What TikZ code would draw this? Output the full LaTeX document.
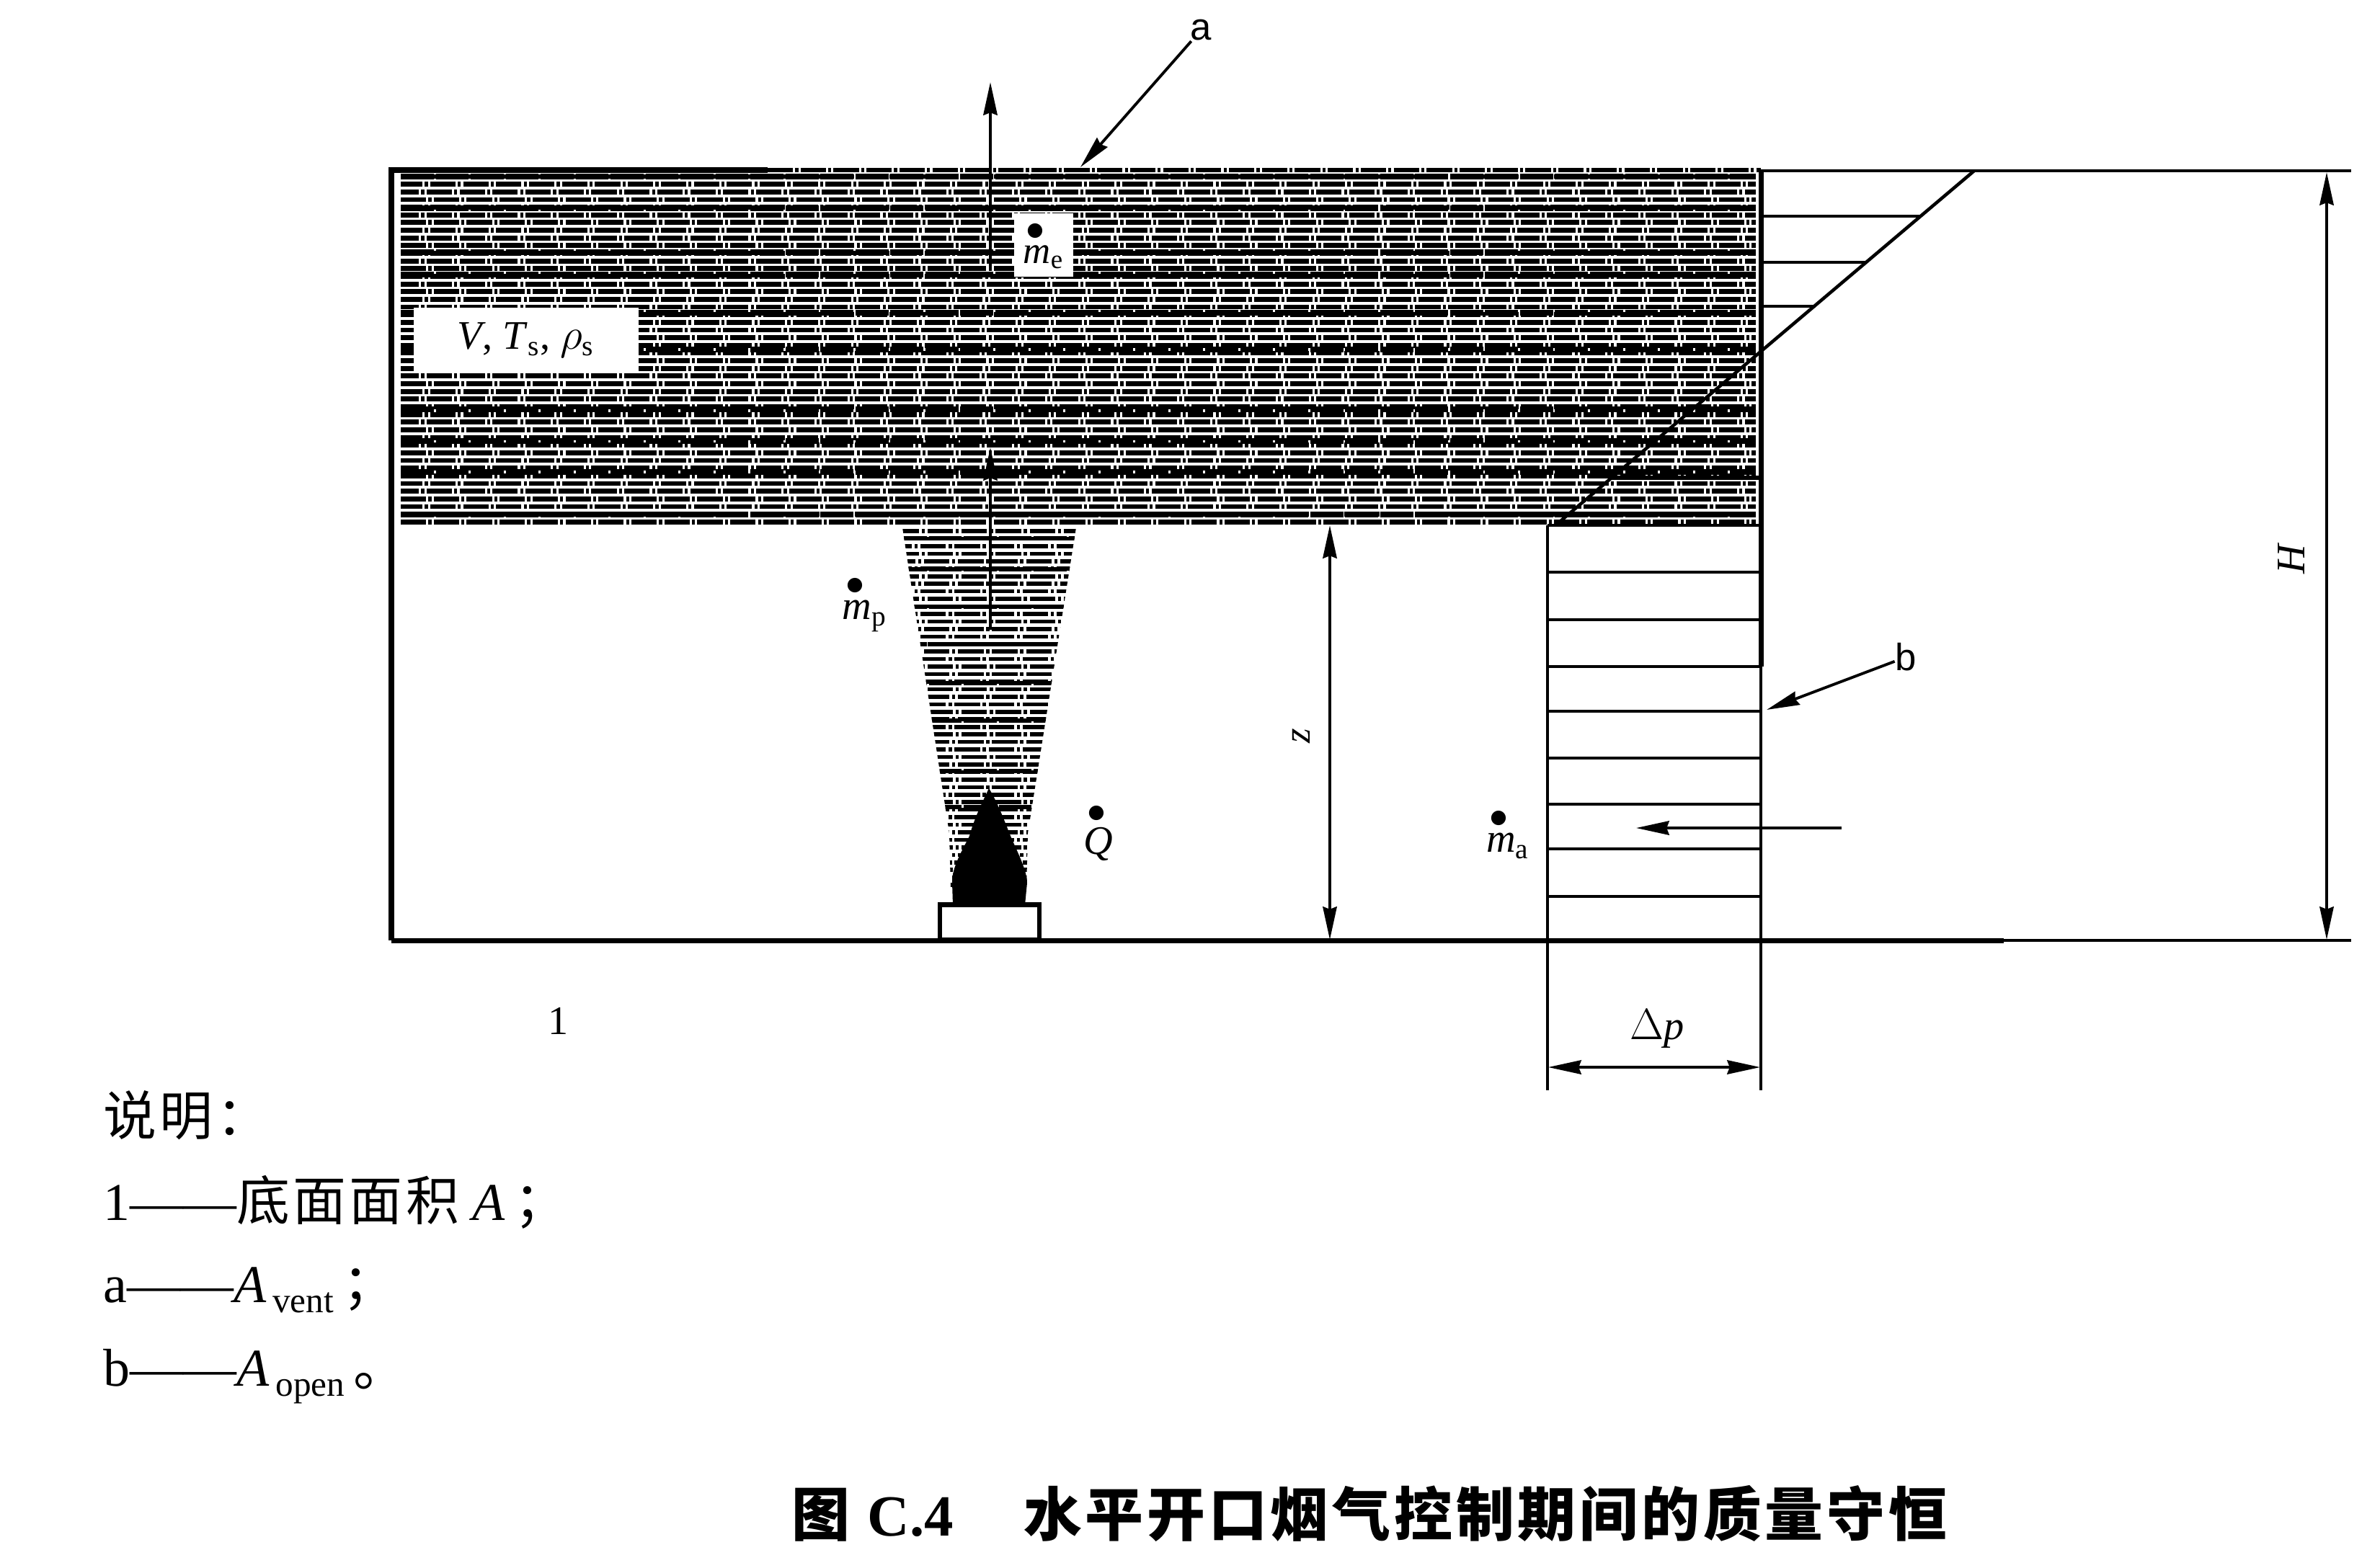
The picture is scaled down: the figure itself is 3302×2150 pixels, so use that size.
\documentclass[tikz,border=0pt]{standalone}
\usepackage{fontspec}
\setmainfont{Liberation Serif}
\setsansfont{Liberation Sans}
\newfontfamily\cjk[LetterSpace=6]{Noto Sans CJK SC}
\usetikzlibrary{arrows.meta,calc}
\newcommand{\bigdot}{\scalebox{1.35}{$\scriptstyle\bullet$}}
\newcommand{\massrate}[1]{$\stackrel{\bigdot}{\textit{m}}_{\mathrm{#1}}$}
\newcommand{\legendsub}[1]{\hspace{2.5pt}\raisebox{-4pt}{\fontsize{14}{16}\selectfont #1}}
\tikzset{line/.style={draw, line width=1.1pt, -{Stealth[length=13pt,width=5.5pt,inset=1pt]}}}
\tikzset{dimline/.style={draw, line width=1.1pt, {Stealth[length=13pt,width=5.5pt,inset=1pt]}-{Stealth[length=13pt,width=5.5pt,inset=1pt]}}}
\tikzset{wall/.style={draw, line width=2pt}}
\tikzset{thinwall/.style={draw, line width=1pt}}
\tikzset{smokerow/.style={draw, line width=1.95pt, dash pattern=on 10pt off 0.9pt on 1.2pt off 0.9pt}}
\tikzset{smokedark/.style={draw, line width=2.1pt, dash pattern=on 13pt off 0.8pt}}
\tikzset{plumerow/.style={draw, line width=1.6pt, dash pattern=on 10pt off 1.1pt on 1.2pt off 1.1pt}}
\tikzset{plumedark/.style={draw, line width=1.8pt, dash pattern=on 13pt off 0.8pt}}
\tikzset{whitebox/.style={fill=white, inner sep=0pt, font=\fontsize{15}{18}\selectfont}}
\tikzset{symbol/.style={inner sep=0pt, font=\fontsize{16}{18}\selectfont}}
\tikzset{legend/.style={anchor=west, inner sep=0pt, font=\fontsize{21}{24}\selectfont}}

\begin{document}
\begin{tikzpicture}[x=0.01cm, y=-0.01cm]
    \useasboundingbox (0,0) rectangle (3302,2150);

    \foreach \i [evaluate=\i as \rowy using 245+10.65*\i, evaluate=\i as \rowphase using {mod(\i,3)*1.4}] in {0,...,45} {
        \path [smokerow, dash phase=\rowphase pt] (556,\rowy) -- (2436,\rowy);
    }
    \foreach \rowy in {245,289,350,381,434,485,568,612,655,714} {
        \path [smokedark] (556,\rowy) -- (2436,\rowy);
    }
    \path [smokerow] (1065,236) -- (2443,236);
    \begin{scope}
        \clip (1252,732) -- (1493,732) -- (1426,1156) -- (1424,1235) -- (1319,1235) -- (1317,1156) -- cycle;
        \foreach \i [evaluate=\i as \rowy using 737+10.45*\i, evaluate=\i as \rowphase using {mod(\i,3)*1.4}] in {0,...,47} {
            \path [plumerow, dash phase=\rowphase pt] (1240,\rowy) -- (1500,\rowy);
        }
        \foreach \rowy in {747,790,842,894,948,1000,1070,1120} {
            \path [plumedark] (1240,\rowy) -- (1500,\rowy);
        }
    \end{scope}

    \fill (1372,1094) .. controls (1362,1115) and (1352,1135) .. (1345,1160)
        .. controls (1335,1180) and (1320,1205) .. (1321,1225)
        -- (1322,1256) -- (1422,1256) -- (1425,1225)
        .. controls (1425,1205) and (1405,1170) .. (1398,1150)
        .. controls (1390,1130) and (1382,1110) .. (1372,1094) -- cycle;
    \node [draw, line width=1.8pt, fill=white, minimum width=1.38cm, minimum height=0.49cm, inner sep=0pt] (burner) at (1373,1280) {};

    \coordinate (topleft) at (543,236);
    \coordinate (floorleft) at (543,1305);
    \coordinate (floorbreak) at (2780,1305);
    \coordinate (floorright) at (3262,1305);
    \coordinate (topmid) at (1065,236);
    \coordinate (wallnw) at (2443,237);
    \coordinate (wallbreak) at (2443,925);
    \coordinate (walllow) at (2443,1513);
    \coordinate (topright) at (3262,237);
    \coordinate (hatchtop) at (2147,729);
    \coordinate (hatchlow) at (2147,1513);
    \coordinate (slopetop) at (2739,237);
    \coordinate (slopelow) at (2158,729);

    \path [wall, line width=2.4pt] (topmid) -- (topleft) -- (floorleft);
    \path [wall] (floorleft) -- (floorbreak);
    \path [wall, line width=1.3pt] (floorbreak) -- (floorright);
    \path [wall, line width=1.3pt] (wallnw) -- (topright);
    \path [wall] (wallnw) -- (wallbreak);
    \path [thinwall] (wallbreak) -- (walllow);
    \path [thinwall] (hatchtop) -- (hatchlow);
    \path [wall, line width=1.2pt] (hatchtop) -- (wallnw |- hatchtop);
    \path [wall, line width=1.3pt] (slopetop) -- (slopelow);
    \path [wall, line width=1.6pt] (2232,663) -- (2443,663);

    \foreach \hatchy in {794,860,925,987,1052,1116,1178,1244} {
        \path [thinwall] (2147,\hatchy) -- (2443,\hatchy);
    }
    \foreach \hatchy/\hatchx in {300/2664,364/2588,425/2519} {
        \path [thinwall] (2443,\hatchy) -- (\hatchx,\hatchy);
    }

    \node [whitebox, minimum width=3.12cm, minimum height=0.9cm] (volume) at (730,472) {\fontsize{16}{18}\selectfont\textit{V}, \textit{T}$_{\mathrm{s}}$, $\rho_{\mathrm{s}}$};
    \node [whitebox, minimum width=0.81cm, minimum height=0.87cm] (exhaust) at (1448,340) {\massrate{e}};
    \node [symbol] (plume) at (1200,838) {\massrate{p}};
    \node [symbol] (heat) at (1524,1155) {$\stackrel{\bigdot}{\textit{Q}}$};
    \node [symbol] (inflow) at (2092,1157) {\massrate{a}};

    \coordinate (ventup) at (1374,371);
    \coordinate (venttip) at (1374,114);
    \coordinate (plumelow) at (1374,874);
    \coordinate (plumetip) at (1374,621);
    \path [line] (ventup) -- (venttip);
    \path [line] (plumelow) -- (plumetip);

    \node [font=\sffamily\fontsize{15}{18}\selectfont, inner sep=0pt] (ventlabel) at (1666,42) {a};
    \coordinate (ventpoint) at (1499,232);
    \path [line] (ventlabel) -- (ventpoint);

    \node [font=\sffamily\fontsize{15}{18}\selectfont, inner sep=0pt] (openlabel) at (2644,912) {b};
    \coordinate (openpoint) at (2451,985);
    \path [line] (openlabel) -- (openpoint);

    \coordinate (inflowtail) at (2555,1149);
    \coordinate (inflowtip) at (2270,1149);
    \path [line] (inflowtail) -- (inflowtip);

    \coordinate (zup) at (1845,729);
    \coordinate (zlow) at (1845,1304);
    \path [dimline] (zup) -- (zlow);
    \node [symbol, rotate=90, font=\fontsize{15}{18}\selectfont\itshape] (zlabel) at (1805,1021) {z};

    \coordinate (Hup) at (3228,239);
    \coordinate (Hlow) at (3228,1304);
    \path [dimline] (Hup) -- (Hlow);
    \node [symbol, rotate=90, font=\fontsize{16}{18}\selectfont\itshape] (Hlabel) at (3179,776) {H};

    \coordinate (pleft) at (2148,1481);
    \coordinate (pright) at (2442,1481);
    \path [dimline] (pleft) -- (pright);
    \node [symbol] (plabel) at (2299,1428) {$\Delta$\textit{p}};

    \node [symbol] (arealabel) at (775,1417) {1};

    \node [legend] (legendhead) at (143,1548) {\cjk 说明：};
    \node [legend] (legendarea) at (143,1668) {1——{\cjk 底面面积} \textit{A}\,{\cjk ；}};
    \node [legend] (legendvent) at (143,1790) {a——\textit{A}\legendsub{vent}\,{\cjk ；}};
    \node [legend] (legendopen) at (143,1910) {b——\textit{A}\legendsub{open}\,{\cjk 。}};

    \node [inner sep=0pt, font=\fontsize{23}{27}\selectfont\bfseries] (caption) at (1900,2100) {{\cjk 图}\hspace{0.3em}C.4\hspace{1.2em}{\cjk 水平开口烟气控制期间的质量守恒}};
\end{tikzpicture}
\end{document}
